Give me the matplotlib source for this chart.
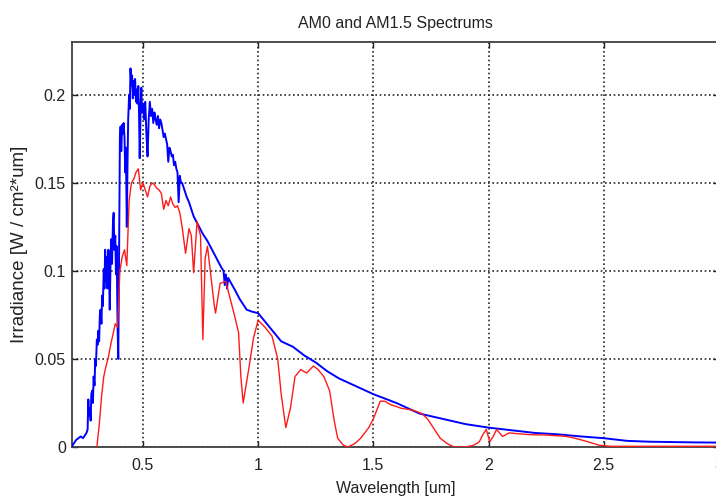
import matplotlib
matplotlib.use("Agg")
import matplotlib.pyplot as plt
import numpy as np

plt.rcParams['font.family'] = ['Liberation Sans', 'DejaVu Sans']

# AM0 spectrum (blue)
am0_wl = [0.19, 0.20, 0.21, 0.22, 0.23, 0.24, 0.25, 0.255, 0.26, 0.263,
          0.266, 0.27, 0.273, 0.276, 0.28, 0.283, 0.286, 0.29, 0.293, 0.296,
          0.30, 0.303, 0.306, 0.31, 0.313, 0.316, 0.32, 0.323, 0.326, 0.33,
          0.333, 0.336, 0.34, 0.343, 0.346, 0.35, 0.353, 0.356, 0.36, 0.363,
          0.366, 0.37, 0.373, 0.376, 0.38, 0.383, 0.386, 0.39, 0.393, 0.396,
          0.40, 0.403, 0.406, 0.41, 0.413, 0.416, 0.42, 0.423, 0.426, 0.43,
          0.433, 0.436, 0.44, 0.443, 0.446, 0.45, 0.453, 0.456, 0.46, 0.463,
          0.466, 0.47, 0.473, 0.476, 0.48, 0.483, 0.486, 0.49, 0.493, 0.496,
          0.50, 0.505, 0.51, 0.515, 0.52, 0.525, 0.53, 0.535, 0.54, 0.545,
          0.55, 0.555, 0.56, 0.565, 0.57, 0.575, 0.58, 0.585, 0.59, 0.595,
          0.60, 0.605, 0.61, 0.615, 0.62, 0.625, 0.63, 0.635, 0.64, 0.645,
          0.65, 0.655, 0.66, 0.665, 0.67, 0.68, 0.69, 0.70, 0.72, 0.74,
          0.76, 0.78, 0.80, 0.82, 0.84, 0.85, 0.855, 0.86, 0.865, 0.87,
          0.90, 0.92, 0.95, 0.97, 1.00, 1.05, 1.10, 1.15, 1.20, 1.25,
          1.30, 1.35, 1.40, 1.50, 1.60, 1.70, 1.80, 1.90, 2.00, 2.10,
          2.20, 2.30, 2.40, 2.50, 2.60, 2.70, 2.80, 2.90, 3.00]
am0_irr = [0.000, 0.002, 0.004, 0.005, 0.006, 0.005, 0.007, 0.008, 0.010, 0.027,
           0.018, 0.022, 0.015, 0.030, 0.032, 0.025, 0.040, 0.035, 0.050, 0.046,
           0.061, 0.058, 0.066, 0.060, 0.075, 0.078, 0.070, 0.086, 0.080, 0.101,
           0.090, 0.112, 0.094, 0.108, 0.090, 0.112, 0.100, 0.078, 0.110, 0.118,
           0.104, 0.128, 0.133, 0.112, 0.120, 0.098, 0.114, 0.068, 0.050, 0.100,
           0.175, 0.182, 0.168, 0.183, 0.178, 0.184, 0.176, 0.156, 0.170, 0.125,
           0.160, 0.186, 0.200, 0.192, 0.215, 0.205, 0.211, 0.198, 0.208, 0.200,
           0.209, 0.196, 0.203, 0.195, 0.205, 0.190, 0.164, 0.193, 0.204, 0.190,
           0.195, 0.186, 0.196, 0.178, 0.165, 0.186, 0.196, 0.188, 0.192, 0.184,
           0.190, 0.186, 0.183, 0.188, 0.181, 0.186, 0.184, 0.180, 0.176, 0.178,
           0.175, 0.172, 0.162, 0.170, 0.168, 0.165, 0.166, 0.160, 0.162, 0.158,
           0.156, 0.139, 0.154, 0.150, 0.150, 0.146, 0.142, 0.139, 0.131, 0.126,
           0.121, 0.117, 0.112, 0.107, 0.102, 0.100, 0.092, 0.098, 0.090, 0.096,
           0.089, 0.084, 0.078, 0.077, 0.076, 0.068, 0.060, 0.057, 0.052, 0.048,
           0.043, 0.039, 0.036, 0.030, 0.025, 0.019, 0.016, 0.013, 0.011, 0.0095,
           0.008, 0.0072, 0.006, 0.005, 0.0035, 0.003, 0.0028, 0.0026, 0.0025]

# AM1.5 spectrum (red)
am15_wl = [0.30, 0.31, 0.32, 0.33, 0.34, 0.35, 0.36, 0.37, 0.38, 0.39,
           0.40, 0.41, 0.42, 0.43, 0.44, 0.45, 0.46, 0.47, 0.48, 0.49,
           0.50, 0.51, 0.52, 0.53, 0.54, 0.55, 0.56, 0.57, 0.58, 0.59,
           0.60, 0.61, 0.62, 0.63, 0.64, 0.65, 0.66, 0.67, 0.685, 0.70,
           0.71, 0.72, 0.735, 0.75, 0.76, 0.77, 0.78, 0.795, 0.81, 0.815,
           0.835, 0.86, 0.875, 0.895, 0.915, 0.925, 0.935, 0.96, 0.98, 1.00,
           1.03, 1.06, 1.085, 1.10, 1.12, 1.14, 1.16, 1.185, 1.21, 1.24,
           1.26, 1.285, 1.31, 1.33, 1.345, 1.37, 1.39, 1.42, 1.445, 1.48,
           1.50, 1.53, 1.55, 1.575, 1.60, 1.62, 1.67, 1.71, 1.735, 1.76,
           1.79, 1.82, 1.85, 1.90, 1.935, 1.96, 1.975, 1.99, 2.005, 2.02,
           2.035, 2.06, 2.09, 2.13, 2.18, 2.25, 2.34, 2.39, 2.43, 2.48,
           2.53, 2.60, 3.00]
am15_irr = [0.000, 0.012, 0.028, 0.040, 0.046, 0.051, 0.058, 0.064, 0.070, 0.068,
            0.100, 0.108, 0.112, 0.103, 0.140, 0.150, 0.152, 0.156, 0.158, 0.146,
            0.150, 0.146, 0.142, 0.148, 0.150, 0.149, 0.147, 0.146, 0.144, 0.135,
            0.140, 0.137, 0.142, 0.138, 0.136, 0.137, 0.133, 0.125, 0.110, 0.124,
            0.120, 0.099, 0.128, 0.120, 0.061, 0.107, 0.114, 0.097, 0.080, 0.076,
            0.093, 0.094, 0.086, 0.076, 0.065, 0.040, 0.025, 0.045, 0.062, 0.072,
            0.068, 0.063, 0.050, 0.030, 0.011, 0.022, 0.040, 0.044, 0.042, 0.046,
            0.044, 0.040, 0.032, 0.015, 0.005, 0.001, 0.000, 0.002, 0.005, 0.011,
            0.016, 0.026, 0.026, 0.024, 0.023, 0.022, 0.021, 0.019, 0.016, 0.011,
            0.005, 0.002, 0.000, 0.000, 0.001, 0.003, 0.007, 0.010, 0.003, 0.006,
            0.010, 0.006, 0.008, 0.0075, 0.007, 0.0068, 0.006, 0.0045, 0.003, 0.001,
            0.0004, 0.0004, 0.0004]

x_ticks = [0.5, 1, 1.5, 2, 2.5, 3]
x_ticklabels = ['0.5', '1', '1.5', '2', '2.5', '3']
y_ticks = [0, 0.05, 0.1, 0.15, 0.2]
y_ticklabels = ['0', '0.05', '0.1', '0.15', '0.2']

W, H = 716, 497
fig = plt.figure(figsize=(W / 100, H / 100), dpi=100)
left_px, right_px, top_px, bottom_px = 71.5, 719, 42, 447
ax = fig.add_axes([left_px / W, 1 - bottom_px / H,
                   (right_px - left_px) / W, (bottom_px - top_px) / H])

ax.plot(am0_wl, am0_irr, color='#0000ff', lw=1.4, zorder=3)
ax.plot(am15_wl, am15_irr, color='#ff1a1a', lw=1.0, zorder=4)

ax.set_xlim(0.19, 3.0)
ax.set_ylim(0, 0.23)
ax.set_xticks(x_ticks)
ax.set_xticklabels(x_ticklabels)
ax.set_yticks(y_ticks)
ax.set_yticklabels(y_ticklabels)

fs = 11.5
ax.tick_params(direction='in', length=4, width=1, top=True, right=True,
               labelsize=fs, colors='#222222')
ax.tick_params(axis='x', pad=8)
ax.tick_params(axis='y', pad=4)
ax.grid(True, color='#2a2a2a', linestyle=(0, (1, 1.6)), linewidth=1.2)
ax.set_axisbelow(True)
for s in ax.spines.values():
    s.set_color('#404040')
    s.set_linewidth(1.3)

ax.set_title('AM0 and AM1.5 Spectrums', fontsize=fs, color='#222222', pad=10)
ax.set_xlabel('Wavelength [um]', fontsize=fs, color='#222222', labelpad=6)
ax.set_ylabel('Irradiance [W / cm²*um]', fontsize=13.5, color='#222222', labelpad=5)

fig.savefig('out.png', dpi=100)
